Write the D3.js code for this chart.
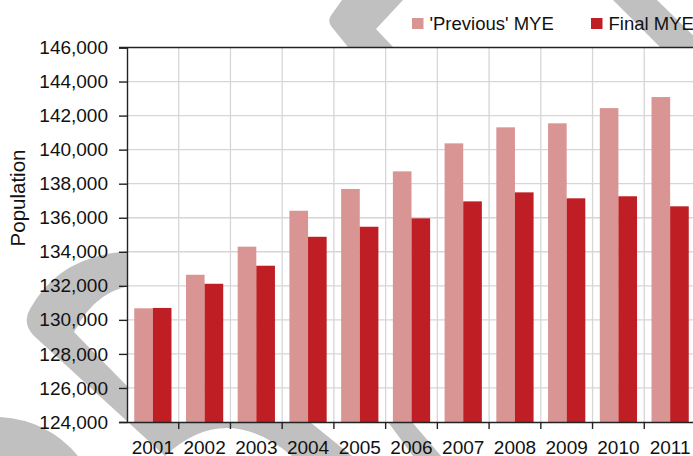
<!DOCTYPE html>
<html>
<head>
<meta charset="utf-8">
<script src="https://cdn.jsdelivr.net/npm/d3@7"></script>
<style>
  html, body { margin: 0; padding: 0; background: #fff; overflow: hidden; }
  svg { display: block; font-family: "Liberation Sans", Arial, sans-serif; }
</style>
</head>
<body>
<div id="chart"></div>
<script>
// Population mid-year estimates
const years = ["2001", "2002", "2003", "2004", "2005", "2006", "2007", "2008", "2009", "2010", "2011"];
const previousMye = [130680, 132650, 134300, 136410, 137690, 138725, 140370, 141310, 141545, 142440, 143090];
const finalMye = [130700, 132120, 133180, 134880, 135470, 135965, 136960, 137490, 137140, 137260, 136670];
const seriesNames = ["'Previous' MYE", "Final MYE"];
const yTicks = [124000, 126000, 128000, 130000, 132000, 134000, 136000, 138000, 140000, 142000, 144000, 146000];

const width = 693, height = 456;
const colors = ["#d99594", "#be1e24"];
const ink = "#111";

const svg = d3.select("#chart").append("svg")
    .attr("width", width)
    .attr("height", height);

// Grey swoosh watermark behind the chart
const wm = svg.append("g").attr("fill", "#c0c0c0");
wm.append("path")
    .attr("d", "M140,251 Q62,251 30,309 Q22,322 33,335 L165,456 Q225,400 292,456 L352,456 L310,422 L127,422 L127,386 L74,332 Q98,286 140,285 Z");
wm.append("path").attr("d", "M0,417 Q48,420 78,456 L0,456 Z");
wm.append("path").attr("d", "M342,0 L403,0 L376,29 L393,47 L348,47 L331,26 Q327,20 332,14 Z");
wm.append("path").attr("d", "M613,0 L657,0 L700,42 L700,47 L660,47 Z");
wm.append("path").attr("d", "M388,422 L412,422 L441,456 L413,456 Z");

// Scales
const x = d3.scaleBand()
    .domain(years)
    .range([127, 696])
    .paddingInner(0.28)
    .paddingOuter(0.14);

const x1 = d3.scaleBand()
    .domain(seriesNames)
    .range([0, x.bandwidth()]);

const y = d3.scaleLinear()
    .domain([124000, 146000])
    .range([422, 47.5]);

// Plot area background
svg.append("rect")
    .attr("x", x.range()[0])
    .attr("y", y(146000))
    .attr("width", width - x.range()[0])
    .attr("height", y(124000) - y(146000))
    .attr("fill", "#fff");

// Category boundaries
const edges = years.map(d => x(d) - x.paddingOuter() * x.step()).concat([x.range()[1]]);

// Gridlines
svg.append("g").selectAll("line.h")
    .data(yTicks.slice(1, -1))
    .enter().append("line")
    .attr("x1", x.range()[0])
    .attr("x2", width)
    .attr("y1", d => y(d))
    .attr("y2", d => y(d))
    .style("stroke", "#d6d6d6")
    .style("stroke-width", 1.3);

svg.append("g").selectAll("line.v")
    .data(edges.slice(1))
    .enter().append("line")
    .attr("x1", d => d)
    .attr("x2", d => d)
    .attr("y1", y(146000))
    .attr("y2", y(124000))
    .style("stroke", "#d6d6d6")
    .style("stroke-width", 1.3);

// Bars
const series = [previousMye, finalMye];
const groups = svg.append("g").selectAll("g")
    .data(years)
    .enter().append("g")
    .attr("transform", d => `translate(${x(d)},0)`);

groups.selectAll("rect")
    .data((d, i) => seriesNames.map((s, j) => ({series: s, value: series[j][i], color: colors[j]})))
    .enter().append("rect")
    .attr("x", d => x1(d.series))
    .attr("width", x1.bandwidth())
    .attr("y", d => y(d.value))
    .attr("height", d => y(124000) - y(d.value))
    .attr("fill", d => d.color);

// Top border of plot
svg.append("line")
    .attr("x1", x.range()[0] - 8)
    .attr("x2", width)
    .attr("y1", y(146000))
    .attr("y2", y(146000))
    .style("stroke", "#222")
    .style("stroke-width", 1.4);

// Y axis
const yAxis = svg.append("g")
    .attr("transform", `translate(${x.range()[0]},0)`)
    .call(d3.axisLeft(y).tickValues(yTicks).tickSize(8).tickPadding(11).tickFormat(d3.format(",")));
yAxis.select(".domain").attr("stroke", "#222").attr("stroke-width", 1.4);
yAxis.selectAll(".tick line").attr("stroke", "#222").attr("stroke-width", 1.4);
yAxis.selectAll("text").attr("fill", ink).style("font-size", "19px").style("font-family", "inherit");

// X axis
const xAxis = svg.append("g")
    .attr("transform", `translate(0,${y(124000)})`)
    .call(d3.axisBottom(x).tickSize(0).tickPadding(19));
xAxis.select(".domain").attr("stroke", "#222").attr("stroke-width", 1.4);
xAxis.selectAll("text").attr("fill", ink).style("font-size", "19px").style("font-family", "inherit");

xAxis.selectAll("line.edge")
    .data(edges.slice(1))
    .enter().append("line")
    .attr("class", "edge")
    .attr("x1", d => d)
    .attr("x2", d => d)
    .attr("y1", 0)
    .attr("y2", 7)
    .attr("stroke", "#222")
    .attr("stroke-width", 1.4);

// Y axis title
svg.append("text")
    .attr("transform", "translate(25,198) rotate(-90)")
    .attr("text-anchor", "middle")
    .attr("fill", ink)
    .style("font-size", "20.5px")
    .text("Population");

// Legend
const legendX = [412, 591];
const legend = svg.append("g");
seriesNames.forEach((name, i) => {
    const item = legend.append("g").attr("transform", `translate(${legendX[i]},18)`);
    item.append("rect")
        .attr("width", 11.5)
        .attr("height", 11)
        .attr("fill", colors[i]);
    item.append("text")
        .attr("x", 17.5)
        .attr("y", 11.5)
        .attr("fill", ink)
        .style("font-size", "18.5px")
        .text(name);
});
</script>
</body>
</html>
